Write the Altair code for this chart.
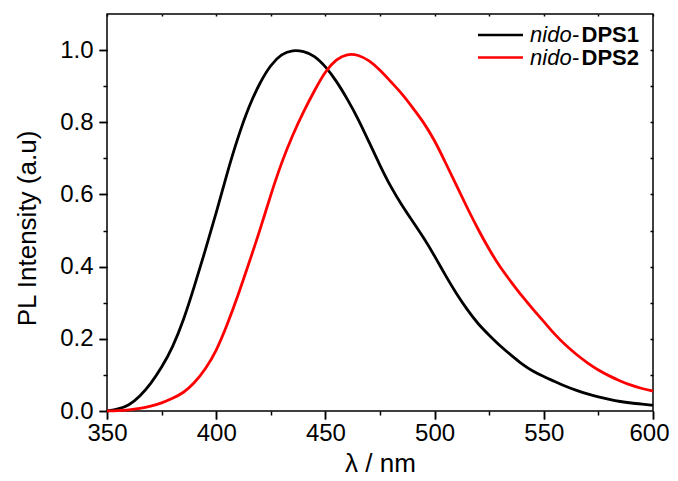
import altair as alt
import pandas as pd

FONT = "Liberation Sans"

wavelength = list(range(350, 601, 5))
dps1 = [0.0, 0.005, 0.015, 0.04, 0.075, 0.12, 0.175, 0.25, 0.345, 0.445,
        0.548, 0.66, 0.76, 0.845, 0.91, 0.96, 0.99, 1.0, 0.997, 0.985,
        0.955, 0.915, 0.865, 0.81, 0.745, 0.68, 0.62, 0.57, 0.525, 0.48,
        0.43, 0.375, 0.325, 0.28, 0.24, 0.21, 0.18, 0.155, 0.13, 0.11,
        0.095, 0.082, 0.068, 0.057, 0.047, 0.039, 0.032, 0.026, 0.022, 0.019,
        0.016]
dps2 = [0.0, 0.001, 0.003, 0.007, 0.013, 0.022, 0.035, 0.05, 0.077, 0.115,
        0.165, 0.238, 0.32, 0.41, 0.50, 0.60, 0.69, 0.765, 0.83, 0.888,
        0.942, 0.975, 0.99, 0.987, 0.972, 0.945, 0.912, 0.88, 0.84, 0.80,
        0.75, 0.688, 0.625, 0.562, 0.502, 0.447, 0.398, 0.358, 0.318, 0.282,
        0.248, 0.212, 0.182, 0.156, 0.133, 0.113, 0.097, 0.083, 0.071, 0.062,
        0.055]
series_names = ["nido-DPS1", "nido-DPS2"]
legend_prefix = ["nido-", "nido-"]
legend_suffix = ["DPS1", "DPS2"]
series_colors = ["#000000", "#ff0000"]

x_major = [350, 400, 450, 500, 550, 600]
x_minor = [375, 425, 475, 525, 575]
x_top = [350, 375, 400, 425, 450, 475, 500, 525, 550, 575, 600]
y_major = [0.0, 0.2, 0.4, 0.6, 0.8, 1.0]
y_minor = [0.1, 0.3, 0.5, 0.7, 0.9]
y_right = [0.1, 0.2, 0.3, 0.4, 0.5, 0.6, 0.7, 0.8, 0.9, 1.0]

rows = []
for name, vals in zip(series_names, [dps1, dps2]):
    for w, v in zip(wavelength, vals):
        rows.append({"wavelength": w, "intensity": v, "series": name})
df = pd.DataFrame(rows)

xscale = alt.Scale(domain=[350, 600], nice=False, zero=False)
yscale = alt.Scale(domain=[0, 1.1], nice=False, zero=False)

common = dict(grid=False, domain=False, ticks=True, tickColor="black", tickWidth=1.5,
              labelFlush=False)

# axes carrying the labels and titles
ax_x_main = alt.Axis(orient="bottom", values=x_major, format="d", tickSize=8,
                     labelPadding=2, labelFont=FONT, labelFontSize=24, labelColor="black",
                     labelOffset={"condition": {"test": "datum.value == 600", "value": -4},
                                  "value": 0},
                     title="λ / nm", titleFont=FONT, titleFontSize=26, titleFontWeight="normal",
                     titleColor="black", titleY=60, titleBaseline="alphabetic", **common)
ax_y_main = alt.Axis(orient="left", values=y_major, format=".1f", tickSize=8,
                     labelPadding=6, labelFont=FONT, labelFontSize=24, labelColor="black",
                     title="PL Intensity (a.u)", titleFont=FONT, titleFontSize=26,
                     titleFontWeight="normal", titleColor="black", titleX=-80, titleY=214,
                     titleAlign="center", titleBaseline="middle", **common)
# major tick marks
ax_x_major = alt.Axis(orient="bottom", values=x_major, tickSize=8, labels=False,
                      title=None, **common)
ax_y_major = alt.Axis(orient="left", values=y_major, tickSize=8, labels=False,
                      title=None, **common)
# minor tick marks
ax_x_minor = alt.Axis(orient="bottom", values=x_minor, tickSize=4, labels=False,
                      title=None, **common)
ax_y_minor = alt.Axis(orient="left", values=y_minor, tickSize=4, labels=False,
                      title=None, **common)
# small inward ticks on the top and right frame
ax_x_top = alt.Axis(orient="top", values=x_top, tickSize=2, offset=-2, labels=False,
                    title=None, **common)
ax_y_right = alt.Axis(orient="right", values=y_right, tickSize=3, offset=-3, labels=False,
                      title=None, **common)

base = alt.Chart(df)

lines = base.mark_line(strokeWidth=2.8, interpolate="basis").encode(
    x=alt.X("wavelength:Q", scale=xscale, axis=ax_x_main),
    y=alt.Y("intensity:Q", scale=yscale, axis=ax_y_main),
    color=alt.Color("series:N", scale=alt.Scale(domain=series_names, range=series_colors),
                    legend=None),
    detail="series:N",
)


def tick_layer(ax_x, ax_y):
    return base.mark_line(strokeOpacity=0).encode(
        x=alt.X("wavelength:Q", scale=xscale, axis=ax_x),
        y=alt.Y("intensity:Q", scale=yscale, axis=ax_y),
        detail="series:N",
    )


major = tick_layer(ax_x_major, ax_y_major)
minor = tick_layer(ax_x_minor, ax_y_minor)
frame_ticks = tick_layer(ax_x_top, ax_y_right)

# manual legend (layout positions in plot-area pixels)
leg_rows = [21, 43.5]
leg_layers = []
for i, name in enumerate(series_names):
    ldf = pd.DataFrame({"series": [name], "prefix": [legend_prefix[i]],
                        "suffix": [legend_suffix[i]]})
    lc = alt.Chart(ldf)
    yv = leg_rows[i]
    leg_layers.append(lc.mark_rule(strokeWidth=2.5, color=series_colors[i]).encode(
        x=alt.value(371), x2=alt.value(416), y=alt.value(yv)))
    leg_layers.append(lc.mark_text(align="right", baseline="alphabetic", font=FONT,
                                   fontSize=22, fontStyle="italic", color="black").encode(
        x=alt.value(472), y=alt.value(yv + 7), text="prefix:N"))
    leg_layers.append(lc.mark_text(align="left", baseline="alphabetic", font=FONT,
                                   fontSize=22, fontWeight="bold", color="black").encode(
        x=alt.value(474.5), y=alt.value(yv + 7), text="suffix:N"))

chart = alt.layer(lines, major, minor, frame_ticks, *leg_layers).resolve_axis(
    x="independent", y="independent"
).properties(
    width=546, height=397,
    autosize=alt.AutoSizeParams(type="none"),
    padding={"left": 99, "top": 6, "right": 17, "bottom": 62},
    background="white",
).configure_view(stroke="black", strokeWidth=1.5)

chart.save("out.html", embed_options={"renderer": "svg", "actions": False})
